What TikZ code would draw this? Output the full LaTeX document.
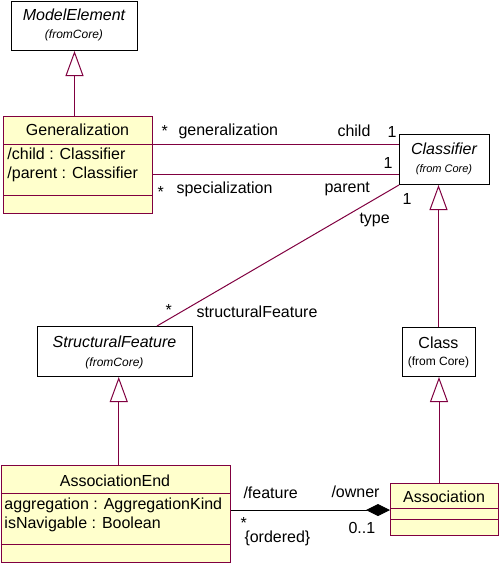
\documentclass[tikz,border=0pt]{standalone}
\usepackage{fontspec}
\setmainfont{Liberation Sans}
\usetikzlibrary{arrows.meta,calc}
\definecolor{umlred}{RGB}{128,0,64}
\definecolor{umlfill}{RGB}{255,255,204}
\begin{document}
\begin{tikzpicture}[x=1pt,y=-1pt,line width=1pt,
  plainbox/.style={draw=black,fill=white,rectangle,anchor=north west,inner sep=0pt},
  classbox/.style={draw=umlred,fill=umlfill,rectangle,anchor=north west,inner sep=0pt},
  txt/.style={inner sep=0pt,font=\fontsize{16}{19}\selectfont},
  smalltxt/.style={inner sep=0pt,font=\fontsize{12}{14}\selectfont},
  rel/.style={draw=umlred},
  inherit/.style={draw=umlred,-{Triangle[length=25pt,width=18pt,fill=white]}},
  compose/.style={draw=black,-{Diamond[length=24pt,width=12pt]}}]
\useasboundingbox (0,0) rectangle (500,563);
% boxes
\node[plainbox,minimum width=126,minimum height=49] (me) at (11,1) {};
\node[classbox,minimum width=149,minimum height=97] (gen) at (3,116) {};
\node[plainbox,minimum width=90,minimum height=50] (clf) at (399,134) {};
\node[plainbox,minimum width=155,minimum height=50] (sf) at (37,326) {};
\node[plainbox,minimum width=73,minimum height=49] (cls) at (402,327) {};
\node[classbox,minimum width=229.5,minimum height=97] (ae) at (0.5,465) {};
\node[classbox,minimum width=108,minimum height=52] (asc) at (390,483) {};
% compartments
\draw[umlred] ($(gen.north west)+(0,28)$) -- ($(gen.north east)+(0,28)$);
\draw[umlred] ($(gen.north west)+(0,79)$) -- ($(gen.north east)+(0,79)$);
\draw[umlred] ($(ae.north west)+(0,28)$) -- ($(ae.north east)+(0,28)$);
\draw[umlred] ($(ae.north west)+(0,79)$) -- ($(ae.north east)+(0,79)$);
\draw[umlred] ($(asc.north west)+(0,25)$) -- ($(asc.north east)+(0,25)$);
\draw[umlred] ($(asc.north west)+(0,36)$) -- ($(asc.north east)+(0,36)$);
% texts in boxes
\node[txt,anchor=base] (meT) at (74,20) {\itshape ModelElement};
\node[smalltxt,anchor=base] (meS) at (74,38) {\itshape (fromCore)};
\node[txt,anchor=base] (genT) at (77.5,135) {Generalization};
\node[txt,anchor=base west] (genA1) at (7,159) {/child : Classifier};
\node[txt,anchor=base west] (genA2) at (7,178) {/parent : Classifier};
\node[txt,anchor=base] (clfT) at (444,154) {\itshape Classifier};
\node[inner sep=0pt,font=\fontsize{11}{13}\selectfont,anchor=base] (clfS) at (444,172) {\itshape (from Core)};
\node[txt,anchor=base] (sfT) at (114.5,347) {\itshape StructuralFeature};
\node[smalltxt,anchor=base] (sfS) at (114.5,366) {\itshape (fromCore)};
\node[txt,anchor=base] (clsT) at (438.5,348) {Class};
\node[smalltxt,anchor=base] (clsS) at (438.5,365) {(from Core)};
\node[txt,anchor=base] (aeT) at (115,486) {AssociationEnd};
\node[txt,anchor=base west] (aeA1) at (4,509) {aggregation : AggregationKind};
\node[txt,anchor=base west] (aeA2) at (4,528) {isNavigable : Boolean};
\node[txt,anchor=base] (ascT) at (444,502) {Association};
% connectors
\coordinate (i1) at ($(cls.north)+(-0.5,0)$);
\coordinate (i2) at ($(ae.north)+(3,0)$);
\coordinate (i3) at ($(asc.north)+(-5.5,0)$);
\draw[inherit] (gen.north -| me.south) -- (me.south);
\draw[inherit] (i1) -- (i1 |- clf.south);
\draw[inherit] (i2) -- (i2 |- sf.south);
\draw[inherit] (i3) -- (i3 |- cls.south);
\coordinate (g1) at ($(clf.north west)+(0,10)$);
\coordinate (s1) at ($(clf.north west)+(0,40)$);
\draw[rel] (g1 -| gen.east) -- (g1);
\draw[rel] (s1 -| gen.east) -- (s1);
\coordinate (sfTop) at ($(sf.north west)+(120,0)$);
\draw[rel] (clf.south west) -- (sfTop);
\coordinate (a1) at ($(asc.north west)+(0,27)$);
\draw[compose] (a1 -| ae.east) -- (a1);
% association labels
\node[txt,anchor=base west] (l1) at (161,136) {*};
\node[txt,anchor=base west] (l2) at (178,135) {generalization};
\node[txt,anchor=base west] (l3) at (337,136) {child};
\node[txt,anchor=base west] (l4) at (387,137) {1};
\node[txt,anchor=base west] (l5) at (383,168) {1};
\node[txt,anchor=base west] (l6) at (157,197) {*};
\node[txt,anchor=base west] (l7) at (176,193) {specialization};
\node[txt,anchor=base west] (l8) at (324,192) {parent};
\node[txt,anchor=base west] (l9) at (402,204) {1};
\node[txt,anchor=base west] (l10) at (359,223) {type};
\node[txt,anchor=base west] (l11) at (165,315) {*};
\node[txt,anchor=base west] (l12) at (196,317) {structuralFeature};
\node[txt,anchor=base west] (l13) at (243,498) {/feature};
\node[txt,anchor=base west] (l14) at (331,497) {/owner};
\node[txt,anchor=base west] (l15) at (240,528) {*};
\node[txt,anchor=base west] (l16) at (244,542) {\{ordered\}};
\node[txt,anchor=base west] (l17) at (348,533) {0..1};
\end{tikzpicture}
\end{document}
